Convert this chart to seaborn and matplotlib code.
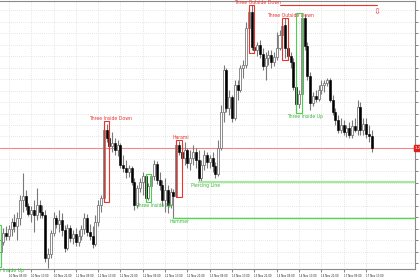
import matplotlib
matplotlib.use("Agg")
import matplotlib.pyplot as plt
import seaborn as sns
import numpy as np
import pandas as pd

sns.set_theme(style="white")
plt.rcParams['font.family'] = ['DejaVu Sans']

# ---- data: hourly EURUSD-like candles, 10 Nov 00:00 .. 17 Nov 15:00 ----
opens = [1.2372,1.2342,1.2348,1.2358,1.2367,1.2364,1.2371,1.2378,1.2374,1.2382,
         1.2400,1.2404,1.2394,1.2386,1.2390,1.2385,1.2395,1.2388,1.2385,1.2342,
         1.2346,1.2367,1.2382,1.2376,1.2380,1.2370,1.2352,1.2372,1.2362,1.2366,
         1.2358,1.2364,1.2371,1.2382,1.2368,1.2364,1.2356,1.2378,1.2395,1.2402,
         1.2470,1.2462,1.2454,1.2457,1.2450,1.2455,1.2435,1.2432,1.2428,1.2432,
         1.2418,1.2395,1.2412,1.2418,1.2424,1.2402,1.2414,1.2424,1.2436,1.2420,
         1.2415,1.2400,1.2410,1.2395,1.2408,1.2404,1.2455,1.2448,1.2442,1.2450,
         1.2437,1.2442,1.2448,1.2440,1.2422,1.2435,1.2445,1.2438,1.2442,1.2434,
         1.2426,1.2452,1.2488,1.2530,1.2492,1.2503,1.2482,1.2515,1.2510,1.2532,
         1.2535,1.2572,1.2588,1.2553,1.2550,1.2555,1.2546,1.2534,1.2542,1.2545,
         1.2538,1.2543,1.2552,1.2565,1.2575,1.2552,1.2544,1.2538,1.2513,1.2496,
         1.2506,1.2582,1.2554,1.2524,1.2497,1.2504,1.2501,1.2510,1.2515,1.2517,
         1.2520,1.2500,1.2488,1.2480,1.2470,1.2475,1.2468,1.2472,1.2465,1.2474,
         1.2470,1.2493,1.2470,1.2476,1.2466,1.2464]
highs = [1.2375,1.2350,1.2364,1.2372,1.2374,1.2375,1.2382,1.2386,1.2388,1.2405,
         1.2427,1.2410,1.2397,1.2394,1.2400,1.2412,1.2400,1.2395,1.2390,1.2352,
         1.2370,1.2388,1.2385,1.2390,1.2387,1.2375,1.2376,1.2375,1.2370,1.2372,
         1.2370,1.2375,1.2387,1.2386,1.2376,1.2374,1.2385,1.2400,1.2405,1.2479,
         1.2476,1.2470,1.2468,1.2462,1.2460,1.2457,1.2445,1.2440,1.2435,1.2434,
         1.2422,1.2415,1.2422,1.2428,1.2426,1.2417,1.2426,1.2440,1.2439,1.2428,
         1.2420,1.2422,1.2415,1.2412,1.2411,1.2460,1.2459,1.2457,1.2458,1.2452,
         1.2450,1.2455,1.2452,1.2450,1.2440,1.2450,1.2448,1.2445,1.2448,1.2438,
         1.2460,1.2495,1.2535,1.2532,1.2510,1.2505,1.2520,1.2520,1.2535,1.2540,
         1.2578,1.2592,1.2595,1.2558,1.2558,1.2560,1.2552,1.2548,1.2550,1.2550,
         1.2548,1.2568,1.2570,1.2578,1.2582,1.2556,1.2548,1.2542,1.2520,1.2510,
         1.2587,1.2586,1.2558,1.2528,1.2508,1.2510,1.2515,1.2520,1.2520,1.2522,
         1.2522,1.2505,1.2492,1.2485,1.2482,1.2480,1.2475,1.2478,1.2480,1.2482,
         1.2500,1.2498,1.2482,1.2482,1.2475,1.2470]
lows = [1.2338,1.2333,1.2342,1.2355,1.2360,1.2360,1.2364,1.2368,1.2360,1.2375,
        1.2388,1.2390,1.2384,1.2378,1.2368,1.2380,1.2382,1.2382,1.2338,1.2332,
        1.2342,1.2364,1.2372,1.2368,1.2364,1.2348,1.2350,1.2358,1.2356,1.2354,
        1.2354,1.2360,1.2366,1.2364,1.2360,1.2352,1.2354,1.2374,1.2388,1.2398,
        1.2458,1.2450,1.2448,1.2445,1.2444,1.2432,1.2428,1.2422,1.2423,1.2415,
        1.2390,1.2392,1.2408,1.2405,1.2398,1.2400,1.2410,1.2420,1.2416,1.2410,
        1.2394,1.2388,1.2387,1.2392,1.2382,1.2403,1.2445,1.2438,1.2435,1.2432,
        1.2430,1.2435,1.2432,1.2418,1.2418,1.2430,1.2432,1.2432,1.2428,1.2422,
        1.2424,1.2450,1.2478,1.2488,1.2485,1.2478,1.2480,1.2500,1.2508,1.2522,
        1.2532,1.2568,1.2550,1.2547,1.2544,1.2542,1.2530,1.2520,1.2535,1.2532,
        1.2534,1.2540,1.2550,1.2562,1.2542,1.2540,1.2532,1.2510,1.2487,1.2492,
        1.2504,1.2550,1.2520,1.2490,1.2494,1.2498,1.2499,1.2506,1.2508,1.2514,
        1.2498,1.2485,1.2475,1.2467,1.2467,1.2465,1.2463,1.2462,1.2462,1.2468,
        1.2465,1.2465,1.2465,1.2462,1.2458,1.2448]
closes = [1.2342,1.2348,1.2360,1.2367,1.2364,1.2371,1.2378,1.2374,1.2382,1.2400,
          1.2404,1.2394,1.2386,1.2390,1.2385,1.2395,1.2388,1.2385,1.2342,1.2346,
          1.2367,1.2382,1.2376,1.2380,1.2370,1.2352,1.2372,1.2362,1.2366,1.2358,
          1.2364,1.2371,1.2382,1.2368,1.2364,1.2356,1.2378,1.2395,1.2402,1.2470,
          1.2462,1.2454,1.2457,1.2450,1.2455,1.2435,1.2432,1.2428,1.2432,1.2418,
          1.2395,1.2412,1.2418,1.2424,1.2402,1.2414,1.2424,1.2436,1.2420,1.2415,
          1.2400,1.2410,1.2395,1.2408,1.2404,1.2455,1.2448,1.2442,1.2450,1.2437,
          1.2442,1.2448,1.2440,1.2422,1.2435,1.2445,1.2438,1.2442,1.2434,1.2426,
          1.2452,1.2488,1.2530,1.2492,1.2503,1.2482,1.2515,1.2510,1.2532,1.2535,
          1.2572,1.2588,1.2553,1.2550,1.2555,1.2546,1.2534,1.2542,1.2545,1.2538,
          1.2543,1.2552,1.2565,1.2574,1.2552,1.2544,1.2538,1.2513,1.2496,1.2506,
          1.2582,1.2554,1.2524,1.2497,1.2504,1.2501,1.2510,1.2515,1.2517,1.2520,
          1.2500,1.2488,1.2480,1.2470,1.2475,1.2468,1.2472,1.2465,1.2474,1.2470,
          1.2493,1.2470,1.2476,1.2466,1.2464,1.2452]

time_labels = ["10 Nov 05:00", "10 Nov 13:00", "10 Nov 21:00", "11 Nov 05:00",
               "11 Nov 13:00", "11 Nov 21:00", "12 Nov 05:00", "12 Nov 13:00",
               "12 Nov 21:00", "13 Nov 05:00", "13 Nov 13:00", "13 Nov 21:00",
               "14 Nov 05:00", "14 Nov 13:00", "14 Nov 21:00", "17 Nov 05:00",
               "17 Nov 13:00"]
time_label_bars = [5, 13, 21, 29, 37, 45, 53, 61, 69, 77, 85, 93, 101, 109, 117, 125, 133]

price_ticks = [1.2590, 1.25785, 1.2567, 1.25555, 1.2544, 1.25325, 1.2521, 1.25095,
               1.2498, 1.24865, 1.2475, 1.24635, 1.2452, 1.24405, 1.2429, 1.24175,
               1.2406, 1.23945, 1.2383, 1.23715, 1.2360, 1.23485, 1.2337]

# pattern name, first bar, last bar, kind, label bar position
patterns = [("Three Inside Up", 0, 2, "bull", 4.0),
            ("Three Inside Down", 39, 41, "bear", 41.5),
            ("Three Inside Up", 54, 56, "bull", 57.0),
            ("Harami", 65, 67, "bear", 66.5),
            ("Three Outside Down", 91, 93, "bear", 94.0),
            ("Three Outside Down", 103, 105, "bear", 106.0),
            ("Three Inside Up", 108, 110, "bull", 111.0)]
# single-bar / line patterns: name, bar, label bar
line_patterns = [("Hammer", 64, 66.0), ("Piercing Line", 73, 75.5)]

df = pd.DataFrame({"bar": np.arange(len(opens)), "open": opens, "high": highs,
                   "low": lows, "close": closes})
df["bull"] = df["close"] >= df["open"]

W, H = 420, 280
fig = plt.figure(figsize=(W / 100, H / 100), dpi=100)
ax = fig.add_axes([0, 1 - 269 / H, 415 / W, 268 / H])
ax.set_facecolor("white")

x0 = 1.82
right_end = x0 + 415 / 2.79
ax.set_xlim(x0, right_end)
ax.set_ylim(1.2600 - 0.0269, 1.2600 - 0.0001)

# grid
for p in price_ticks:
    ax.axhline(p, color="#cfcfcf", lw=0.5, ls=(0, (1, 2)), zorder=0)
for b in time_label_bars:
    ax.axvline(b, color="#cfcfcf", lw=0.5, ls=(0, (1, 2)), zorder=0)

# candles
ax.vlines(df["bar"], df["low"], df["high"], color="#7a7a7a", lw=0.8, zorder=2)
body_bottom = np.minimum(df["open"], df["close"])
body_h = np.maximum(np.abs(df["close"] - df["open"]), 0.00006)
bull = df["bull"].values
ax.bar(df["bar"][bull], body_h[bull], bottom=body_bottom[bull], width=0.72,
       color="white", edgecolor="#7a7a7a", lw=0.6, zorder=3)
ax.bar(df["bar"][~bull], body_h[~bull], bottom=body_bottom[~bull], width=0.72,
       color="black", edgecolor="black", lw=0.4, zorder=3)

red = "#e8332f"
green = "#4fcf4f"
# pattern boxes and labels
for name, a, b, kind, lx in patterns:
    top = df["high"][a:b + 1].max()
    bot = df["low"][a:b + 1].min()
    col = red if kind == "bear" else green
    ax.add_patch(plt.Rectangle((a, bot), b - a, top - bot, fill=False,
                               edgecolor=col, lw=0.8, zorder=4, clip_on=True))
    if kind == "bear":
        ax.annotate(name, (lx, top), xytext=(0, 0.9), textcoords="offset points",
                    ha="center", va="baseline", fontsize=3.3, color=red,
                    annotation_clip=False)
    else:
        ax.annotate(name, (lx, bot), xytext=(0, -0.8), textcoords="offset points",
                    ha="center", va="top", fontsize=3.3, color="#3cb83c",
                    annotation_clip=False)

line_cols = ["#52d852", "#a6e8a0"]
line_w = [1.0, 1.6]
for (name, b, lx), c, lw in zip(line_patterns, line_cols, line_w):
    lowv = df["low"][b:b + 2].min()
    ax.plot([b, right_end], [lowv, lowv], color=c, lw=lw, zorder=4)
    ax.annotate(name, (lx, lowv), xytext=(0, -0.8), textcoords="offset points",
                ha="center", va="top", fontsize=3.3, color="#3cb83c")

# resistance line at top with arrow
top_high = df["high"].max()
ax.plot([102, 137], [top_high, top_high], color=red, lw=0.8, zorder=4)
ax.text(137, top_high - 0.0003, "\u21e9", color=red, fontsize=6, ha="center",
        va="top", zorder=5)

# bid line
last = df["close"].iloc[-1]
ax.axhline(last, color="#f08a8a", lw=0.8, zorder=1)
ax.text(1.0, last, "1.2452", transform=ax.get_yaxis_transform(), ha="left",
        va="center", fontsize=3, color="white", clip_on=False, zorder=6,
        bbox=dict(boxstyle="square,pad=0.15", fc="#e0201a", ec="#e0201a"))

# axes
ax.yaxis.tick_right()
ax.set_yticks(price_ticks)
ax.set_yticklabels(["" if abs(p - last) < 1e-6 else f"{p:.5f}" for p in price_ticks])
ax.set_xticks(time_label_bars)
ax.set_xticklabels(time_labels, ha="left")
ax.tick_params(axis="y", right=True, length=2, width=0.5, color="#555555",
               labelsize=3, pad=1, labelcolor="#222222")
ax.tick_params(axis="x", bottom=True, length=2, width=0.5, color="#555555",
               labelsize=1.9, pad=1.5, labelcolor="#222222")
ax.spines["left"].set_visible(False)
for s in ["right", "bottom", "top"]:
    ax.spines[s].set_color("#8a8a8a")
    ax.spines[s].set_linewidth(0.8)
ax.grid(False)

fig.savefig("out.png", dpi=100, facecolor="white")
